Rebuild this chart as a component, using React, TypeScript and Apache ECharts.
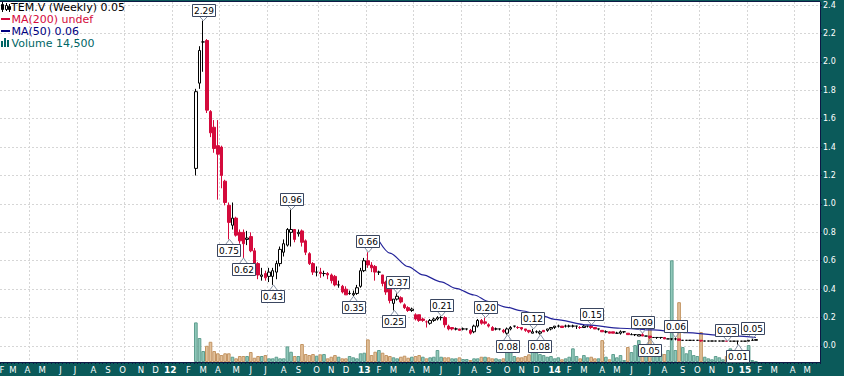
import React, { useEffect, useRef } from 'react';
import * as echarts from 'echarts';

// ---------- data ----------
// weekly categories start at Monday 2011-02-07; price data starts at week index 53 (2012-02-13)
const AXIS_START_UTC = Date.UTC(2011, 1, 7);
const WEEK_COUNT = 224;
const FIRST_DATA_WEEK = 53;
const MONTH_LETTERS = ['J', 'F', 'M', 'A', 'M', 'J', 'J', 'A', 'S', 'O', 'N', 'D'];
const PRICE_TICKS = [0, 0.2, 0.4, 0.6, 0.8, 1.0, 1.2, 1.4, 1.6, 1.8, 2.0, 2.2, 2.4];

// weekly candles [open, close, low, high]
const ohlc: number[][] = [
  [1.25, 1.79, 1.20, 1.81], [1.85, 2.08, 1.81, 2.11], [2.14, 2.14, 1.93, 2.29], [2.15, 1.66, 1.64, 2.16], [1.65, 1.50, 1.47, 1.66], [1.54, 1.39, 1.36, 1.59], [1.41, 1.35, 1.03, 1.59], [1.40, 1.20, 1.11, 1.41], [1.16, 1.01, 0.99, 1.17], [0.99, 0.87, 0.75, 1.01],
  [0.85, 0.90, 0.82, 1.01], [0.90, 0.78, 0.77, 0.91], [0.80, 0.74, 0.72, 0.82], [0.80, 0.72, 0.62, 0.82], [0.75, 0.76, 0.71, 0.81], [0.77, 0.67, 0.66, 0.80], [0.67, 0.58, 0.57, 0.69], [0.58, 0.50, 0.47, 0.59], [0.49, 0.50, 0.46, 0.55], [0.51, 0.48, 0.46, 0.53],
  [0.49, 0.52, 0.45, 0.55], [0.49, 0.53, 0.43, 0.55], [0.52, 0.58, 0.47, 0.60], [0.58, 0.68, 0.56, 0.70], [0.66, 0.72, 0.63, 0.75], [0.71, 0.82, 0.70, 0.83], [0.80, 0.82, 0.70, 0.96], [0.82, 0.75, 0.73, 0.82], [0.79, 0.80, 0.77, 0.82], [0.81, 0.73, 0.70, 0.82],
  [0.74, 0.66, 0.64, 0.75], [0.65, 0.58, 0.57, 0.66], [0.58, 0.52, 0.50, 0.59], [0.52, 0.52, 0.49, 0.56], [0.52, 0.51, 0.48, 0.55], [0.51, 0.51, 0.49, 0.53], [0.51, 0.50, 0.47, 0.52], [0.50, 0.46, 0.44, 0.51], [0.49, 0.43, 0.42, 0.50], [0.43, 0.43, 0.41, 0.46],
  [0.42, 0.38, 0.37, 0.43], [0.40, 0.36, 0.36, 0.42], [0.37, 0.37, 0.36, 0.39], [0.36, 0.37, 0.35, 0.39], [0.37, 0.41, 0.36, 0.43], [0.42, 0.53, 0.41, 0.55], [0.53, 0.60, 0.52, 0.62], [0.60, 0.57, 0.55, 0.66], [0.57, 0.55, 0.52, 0.59], [0.56, 0.52, 0.46, 0.57],
  [0.52, 0.52, 0.50, 0.53], [0.50, 0.44, 0.42, 0.50], [0.45, 0.38, 0.36, 0.46], [0.40, 0.32, 0.30, 0.40], [0.30, 0.33, 0.25, 0.33], [0.33, 0.35, 0.32, 0.37], [0.34, 0.31, 0.30, 0.35], [0.29, 0.27, 0.26, 0.30], [0.27, 0.25, 0.24, 0.28], [0.25, 0.26, 0.24, 0.27],
  [0.22, 0.19, 0.18, 0.23], [0.22, 0.18, 0.17, 0.22], [0.19, 0.18, 0.17, 0.20], [0.17, 0.17, 0.13, 0.18], [0.16, 0.18, 0.15, 0.19], [0.18, 0.19, 0.17, 0.20], [0.19, 0.20, 0.18, 0.21], [0.20, 0.20, 0.18, 0.21], [0.20, 0.15, 0.13, 0.21], [0.14, 0.12, 0.11, 0.15],
  [0.13, 0.12, 0.11, 0.13], [0.12, 0.12, 0.11, 0.13], [0.12, 0.11, 0.11, 0.12], [0.12, 0.12, 0.11, 0.13], [0.12, 0.12, 0.11, 0.12], [0.11, 0.09, 0.08, 0.12], [0.10, 0.14, 0.09, 0.15], [0.14, 0.18, 0.13, 0.19], [0.18, 0.16, 0.15, 0.19], [0.17, 0.16, 0.15, 0.20],
  [0.15, 0.14, 0.13, 0.16], [0.13, 0.11, 0.11, 0.14], [0.12, 0.12, 0.11, 0.13], [0.12, 0.12, 0.11, 0.12], [0.11, 0.10, 0.09, 0.12], [0.09, 0.12, 0.08, 0.13], [0.12, 0.13, 0.11, 0.14], [0.14, 0.14, 0.13, 0.14], [0.13, 0.13, 0.12, 0.14], [0.13, 0.12, 0.11, 0.13],
  [0.12, 0.11, 0.10, 0.12], [0.11, 0.10, 0.09, 0.11], [0.09, 0.10, 0.09, 0.12], [0.10, 0.10, 0.09, 0.11], [0.09, 0.10, 0.08, 0.11], [0.11, 0.10, 0.10, 0.11], [0.11, 0.12, 0.10, 0.12], [0.12, 0.13, 0.11, 0.13], [0.13, 0.14, 0.12, 0.14], [0.14, 0.14, 0.13, 0.15],
  [0.14, 0.13, 0.13, 0.14], [0.14, 0.14, 0.13, 0.15], [0.14, 0.14, 0.13, 0.15], [0.14, 0.14, 0.13, 0.15], [0.14, 0.14, 0.12, 0.14], [0.13, 0.13, 0.12, 0.14], [0.13, 0.14, 0.13, 0.15], [0.14, 0.14, 0.13, 0.14], [0.14, 0.13, 0.12, 0.15], [0.13, 0.12, 0.12, 0.13],
  [0.12, 0.12, 0.11, 0.12], [0.11, 0.10, 0.10, 0.11], [0.10, 0.10, 0.09, 0.11], [0.10, 0.09, 0.09, 0.10], [0.10, 0.09, 0.09, 0.10], [0.09, 0.09, 0.09, 0.10], [0.09, 0.10, 0.08, 0.11], [0.10, 0.10, 0.09, 0.10], [0.09, 0.08, 0.08, 0.09], [0.08, 0.08, 0.08, 0.09],
  [0.08, 0.08, 0.07, 0.08], [0.07, 0.08, 0.07, 0.08], [0.08, 0.07, 0.07, 0.09], [0.07, 0.07, 0.07, 0.07], [0.07, 0.06, 0.05, 0.07], [0.06, 0.06, 0.06, 0.06], [0.06, 0.06, 0.05, 0.06], [0.06, 0.06, 0.05, 0.06], [0.06, 0.05, 0.05, 0.06], [0.05, 0.05, 0.05, 0.05],
  [0.05, 0.05, 0.04, 0.05], [0.05, 0.05, 0.04, 0.06], [0.05, 0.04, 0.04, 0.05], [0.04, 0.04, 0.04, 0.04], [0.04, 0.04, 0.04, 0.04], [0.04, 0.04, 0.04, 0.04], [0.04, 0.04, 0.04, 0.04], [0.04, 0.04, 0.04, 0.04], [0.04, 0.035, 0.03, 0.04], [0.035, 0.035, 0.035, 0.035],
  [0.035, 0.035, 0.035, 0.035], [0.035, 0.035, 0.035, 0.035], [0.035, 0.035, 0.035, 0.035], [0.035, 0.035, 0.035, 0.035], [0.035, 0.035, 0.035, 0.035], [0.035, 0.034, 0.034, 0.035], [0.034, 0.034, 0.034, 0.034], [0.034, 0.034, 0.034, 0.034], [0.034, 0.034, 0.01, 0.034], [0.034, 0.034, 0.034, 0.034],
  [0.034, 0.034, 0.034, 0.034], [0.034, 0.04, 0.034, 0.04], [0.04, 0.04, 0.04, 0.05], [0.04, 0.045, 0.04, 0.045],
];

// weekly volume, thousands of shares
const volumeK: number[] = [
  660, 400, 183, 270, 337, 183, 145, 116, 145, 145,
  88, 61, 100, 100, 100, 166, 71, 100, 100, 116,
  61, 61, 88, 61, 61, 260, 171, 100, 100, 300,
  133, 116, 133, 105, 128, 133, 61, 88, 116, 88,
  61, 61, 100, 78, 61, 145, 155, 377, 116, 171,
  200, 155, 116, 100, 78, 61, 88, 105, 71, 88,
  100, 116, 88, 61, 78, 88, 200, 88, 78, 78,
  61, 61, 78, 50, 50, 33, 61, 61, 88, 88,
  78, 61, 61, 45, 61, 178, 178, 100, 78, 78,
  100, 128, 171, 161, 133, 116, 88, 100, 61, 78,
  45, 61, 88, 228, 100, 61, 116, 78, 88, 61,
  61, 365, 88, 45, 133, 78, 116, 33, 250, 166,
  282, 365, 300, 282, 573, 166, 166, 145, 133, 200,
  1695, 200, 997, 250, 145, 200, 116, 100, 500, 88,
  61, 45, 100, 78, 45, 100, 228, 200, 100, 61,
  61, 282, 33, 14.5,
];

// 50-week moving average, read at [week index, value]
const ma50Points: number[][] = [
  [103, 0.741], [106, 0.654], [111, 0.558], [115, 0.500], [120, 0.452], [124, 0.406], [129, 0.359],
  [133, 0.312], [138, 0.272], [142, 0.248], [147, 0.218], [151, 0.188], [160, 0.148], [169, 0.125],
  [178, 0.113], [184, 0.101], [187, 0.094], [196, 0.077], [206, 0.060],
];

// price callouts [week index, price, 1 = high above / -1 = low below]
const callouts: number[][] = [
  [55, 2.29, 1], [62, 0.75, -1], [66, 0.62, -1], [74, 0.43, -1], [79, 0.96, 1], [96, 0.35, -1],
  [100, 0.66, 1], [107, 0.25, -1], [108, 0.37, 1], [120, 0.21, 1], [132, 0.20, 1], [138, 0.08, -1],
  [145, 0.12, 1], [147, 0.08, -1], [161, 0.15, 1], [175, 0.09, 1], [177, 0.05, -1], [184, 0.06, 1],
  [198, 0.034, 1], [201, 0.01, -1], [205, 0.05, 1],
];

const LEGEND_TITLE = 'TEM.V (Weekly) 0.05';
const LEGEND_MA200 = 'MA(200) undef';
const LEGEND_MA50 = 'MA(50) 0.06';
const LEGEND_VOLUME = 'Volume 14,500';

// ---------- style ----------
const FONT = 'DejaVu Sans';
const BAND = '#0b5a5a';
const FRAME = '#0d1a45';
const RED = '#d40a3c';
const NAVY = '#24249a';
const GRID_LINE = '#d6d6d6';
const VOL_UP = { color: '#90c8ba', borderColor: '#5f9e8f' };
const VOL_DOWN = { color: '#e2c29c', borderColor: '#c39462' };

const DAY = 86400000;

function buildOption() {
  const weeks: string[] = [];
  const labels: string[] = [];
  const labelMonth: number[] = [];
  for (let i = 0; i < WEEK_COUNT; i++) {
    const d = new Date(AXIS_START_UTC + i * 7 * DAY);
    const e = new Date(d.getTime() + 6 * DAY);
    weeks.push(d.toISOString().slice(0, 10));
    let ref: Date | null = null;
    if (d.getUTCDate() === 1 || i === 0) ref = d;
    else if (d.getUTCMonth() !== e.getUTCMonth()) ref = e;
    if (ref) {
      const m = ref.getUTCMonth();
      labelMonth.push(m);
      labels.push(m === 0 ? '{y|' + String(ref.getUTCFullYear() % 100).padStart(2, '0') + '}' : MONTH_LETTERS[m]);
    } else {
      labelMonth.push(-1);
      labels.push('');
    }
  }
  const gridTicks = new Set<number>();
  labelMonth.forEach((m, i) => {
    if (i > 0 && m >= 0 && m % 3 === 0) gridTicks.add(i + 1);
  });

  const candleData = weeks.map((_, i) => {
    const j = i - FIRST_DATA_WEEK;
    return j >= 0 && j < ohlc.length ? ohlc[j] : '-';
  });
  const volData = weeks.map((_, i) => {
    const j = i - FIRST_DATA_WEEK;
    if (j < 0 || j >= volumeK.length) return '-';
    const up = j === 0 || ohlc[j][1] >= ohlc[j - 1][1];
    return { value: volumeK[j], itemStyle: { ...(up ? VOL_UP : VOL_DOWN), borderWidth: 1 } };
  });
  const maData: any[] = weeks.map(() => '-');
  ma50Points.forEach(([w, v]) => { maData[w] = v; });

  const yMin = -(362 - 346) / 142.08;
  const yMax = 2.4 + (5 - 2) / 142.08;

  const legendFont = `11px "${FONT}"`;
  const legendIcon = [
    { type: 'line', shape: { x1: 2.5, y1: 2, x2: 2.5, y2: 12 }, style: { stroke: '#000', lineWidth: 1 } },
    { type: 'rect', shape: { x: 1.5, y: 4.5, width: 2, height: 5 }, style: { fill: '#000', stroke: '#000', lineWidth: 1 } },
    { type: 'line', shape: { x1: 6.5, y1: 3, x2: 6.5, y2: 11 }, style: { stroke: '#000', lineWidth: 1 } },
    { type: 'rect', shape: { x: 5.5, y: 5.5, width: 2, height: 4 }, style: { fill: '#fff', stroke: '#000', lineWidth: 1 } },
    { type: 'line', shape: { x1: 9.5, y1: 4, x2: 9.5, y2: 12 }, style: { stroke: '#000', lineWidth: 1 } },
    { type: 'rect', shape: { x: 8.5, y: 6.5, width: 2, height: 3 }, style: { fill: '#000', stroke: '#000', lineWidth: 1 } },
  ];
  const legend = [
    ...legendIcon,
    { type: 'text', x: 11, y: 7, style: { text: LEGEND_TITLE, fill: '#000', font: legendFont, verticalAlign: 'middle', lineHeight: 11 } },
    { type: 'line', shape: { x1: 1, y1: 19, x2: 10, y2: 19 }, style: { stroke: RED, lineWidth: 2 } },
    { type: 'text', x: 11.5, y: 19, style: { text: LEGEND_MA200, fill: RED, font: legendFont, verticalAlign: 'middle', lineHeight: 11 } },
    { type: 'line', shape: { x1: 1, y1: 31, x2: 10, y2: 31 }, style: { stroke: '#000080', lineWidth: 2 } },
    { type: 'text', x: 11.5, y: 31, style: { text: LEGEND_MA50, fill: '#000080', font: legendFont, verticalAlign: 'middle', lineHeight: 11 } },
    { type: 'rect', shape: { x: 1, y: 41, width: 2, height: 6 }, style: { fill: '#006666' } },
    { type: 'rect', shape: { x: 4, y: 38, width: 2, height: 9 }, style: { fill: '#006666' } },
    { type: 'rect', shape: { x: 7, y: 40, width: 2, height: 7 }, style: { fill: '#006666' } },
    { type: 'text', x: 11.5, y: 43, style: { text: LEGEND_VOLUME, fill: '#006666', font: legendFont, verticalAlign: 'middle', lineHeight: 11 } },
  ].map((g: any) => ({ ...g, z: 100 }));

  return {
    animation: false,
    textStyle: { fontFamily: FONT },
    grid: { left: 0, right: 24, top: 2, bottom: 14, show: true, backgroundColor: '#ffffff', borderWidth: 0, outerBoundsMode: 'none' },
    xAxis: {
      type: 'category',
      data: weeks,
      boundaryGap: true,
      axisLine: { show: true, onZero: false, lineStyle: { color: FRAME, width: 1 } },
      axisTick: { show: true, interval: 0, length: 2, lineStyle: { color: FRAME } },
      axisLabel: {
        interval: (i: number) => labels[i] !== '',
        formatter: (_v: string, i: number) => labels[i],
        color: '#ffffff',
        fontSize: 8.5,
        fontFamily: FONT,
        margin: 3,
        rich: { y: { fontWeight: 'bold', fontSize: 9, color: '#ffffff', fontFamily: FONT } },
      },
      splitLine: { show: true, interval: (i: number) => gridTicks.has(i), lineStyle: { color: GRID_LINE, type: [2, 2] } },
    },
    yAxis: [
      {
        type: 'value',
        position: 'right',
        min: yMin,
        max: yMax,
        axisLine: { show: true, onZero: false, lineStyle: { color: FRAME } },
        axisTick: { show: true, length: 2, customValues: PRICE_TICKS, lineStyle: { color: FRAME } },
        axisLabel: {
          customValues: PRICE_TICKS,
          formatter: (v: number) => Number(v).toFixed(1),
          color: '#ffffff',
          fontSize: 8,
          fontFamily: FONT,
          margin: 3,
        },
        splitLine: { show: true, lineStyle: { color: GRID_LINE, type: [2, 2] } },
      },
      { type: 'value', min: 0, max: 6000, show: false, splitLine: { show: false } },
    ],
    series: [
      {
        type: 'bar',
        name: 'Volume',
        xAxisIndex: 0,
        yAxisIndex: 1,
        data: volData,
        barCategoryGap: '0%',
        z: 1,
      },
      {
        type: 'candlestick',
        name: 'TEM.V',
        xAxisIndex: 0,
        yAxisIndex: 0,
        data: candleData,
        barWidth: 3,
        itemStyle: { color: '#ffffff', color0: RED, borderColor: '#000000', borderColor0: RED, borderWidth: 1 },
        z: 3,
      },
      {
        type: 'line',
        name: 'MA(50)',
        xAxisIndex: 0,
        yAxisIndex: 0,
        data: maData,
        connectNulls: true,
        showSymbol: false,
        symbol: 'none',
        smooth: 0.3,
        smoothMonotone: 'x',
        lineStyle: { color: NAVY, width: 1.2 },
        z: 4,
      },
      {
        type: 'custom',
        name: 'callouts',
        xAxisIndex: 0,
        yAxisIndex: 0,
        data: callouts,
        encode: { x: 0, y: 1 },
        z: 10,
        renderItem: (_params: any, api: any) => {
          const v = api.value(1);
          const dir = api.value(2);
          const p = api.coord([api.value(0), v]);
          const w = 23;
          const h = 12;
          const gap = 5;
          const cx = Math.round(p[0]) + 0.5;
          const tip = p[1];
          const boxY = dir > 0 ? Math.round(tip - gap - h) + 0.5 : Math.round(tip + gap) + 0.5;
          const edgeY = dir > 0 ? boxY + h : boxY;
          const bx = Math.round(p[0] - w / 2) + 0.5;
          return {
            type: 'group',
            children: [
              { type: 'polyline', shape: { points: [[cx - 4, edgeY], [cx, tip], [cx + 4, edgeY]] }, style: { stroke: '#8793a6', fill: null, lineWidth: 1 } },
              { type: 'rect', shape: { x: bx, y: boxY, width: w, height: h }, style: { fill: '#ffffff', stroke: '#3a4660', lineWidth: 1 } },
              { type: 'text', x: bx + w / 2, y: boxY + h / 2 + 0.5, style: { text: v.toFixed(2), fill: '#000000', font: `9px "${FONT}"`, align: 'center', verticalAlign: 'middle' } },
            ],
          };
        },
      },
    ],
    graphic: [
      { type: 'line', shape: { x1: 0, y1: 1.5, x2: 820, y2: 1.5 }, style: { stroke: FRAME, lineWidth: 1 }, z: 100 },
      ...legend,
    ],
  };
}

export default function App() {
  const ref = useRef<HTMLDivElement>(null);
  useEffect(() => {
    document.body.style.margin = '0';
    const chart = echarts.init(ref.current as HTMLDivElement, null, { renderer: 'svg' });
    chart.setOption(buildOption() as any);
    return () => chart.dispose();
  }, []);
  return <div ref={ref} style={{ width: 844, height: 376, background: BAND }} />;
}
